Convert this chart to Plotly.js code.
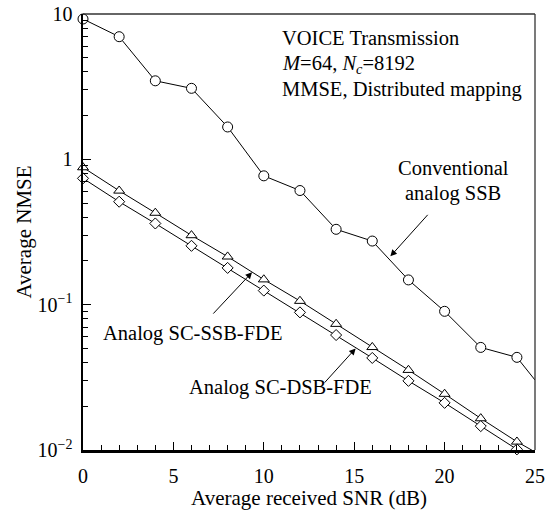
<!DOCTYPE html>
<html><head><meta charset="utf-8">
<script src="https://cdn.plot.ly/plotly-3.0.1.min.js"></script>
<style>html,body{margin:0;padding:0;background:#fff}</style>
</head><body>
<div id="chart" style="width:555px;height:514px"></div>
<script>
// SNR (dB) at which points were plotted; the last entry (25) is where the lines leave the frame
const snr = [0, 2, 4, 6, 8, 10, 12, 14, 16, 18, 20, 22, 24, 25];
const conventionalSSB = [9.24, 6.98, 3.47, 3.08, 1.67, 0.77, 0.61, 0.33, 0.274, 0.148, 0.090, 0.0508, 0.0434, 0.0303];
const scSSBFDE = [0.88, 0.608, 0.428, 0.30, 0.214, 0.149, 0.106, 0.0736, 0.051, 0.0355, 0.0243, 0.0165, 0.0114, 0.0097];
const scDSBFDE = [0.74, 0.511, 0.362, 0.254, 0.179, 0.125, 0.0885, 0.0618, 0.043, 0.0299, 0.0211, 0.0146, 0.0101, 0.0086];
const markerSNR = [0, 2, 4, 6, 8, 10, 12, 14, 16, 18, 20, 22, 24];
const yTickVals = [10, 1, 0.1, 0.01];
const yTickText = ['10', '1', '10<sup>\u22121</sup>', '10<sup>\u22122</sup>'];
const xTickVals = [0, 5, 10, 15, 20, 25];

const FONT = '"Liberation Serif", "Times New Roman", Times, serif';
function pick(arr){ return markerSNR.map(s => arr[snr.indexOf(s)]); }
const series = [
  {y: conventionalSSB, sym: 'circle', size: 10},
  {y: scSSBFDE, sym: 'triangle-up', size: 9.5},
  {y: scDSBFDE, sym: 'diamond', size: 8.5}
];
const data = [];
series.forEach(s => {
  data.push({x: snr, y: s.y, mode: 'lines', line: {color: '#000', width: 1}, hoverinfo: 'skip', showlegend: false});
  data.push({x: markerSNR, y: pick(s.y), mode: 'markers', cliponaxis: false, showlegend: false,
    marker: {symbol: s.sym, size: s.size, color: '#fff', line: {color: '#000', width: 1}}});
});

const minorY = [];
[0.01, 0.1, 1].forEach(d => { for (let k = 2; k <= 9; k++) minorY.push(k * d); });

const annFont = {family: FONT, size: 20.5, color: '#000'};
const L = Math.log10;
function label(x, y, text){ return {xref: 'x', yref: 'y', x: x, y: L(y), text: text, showarrow: false, font: annFont, xanchor: 'center', yanchor: 'middle'}; }
function arrow(x, y, ax, ay){ return {xref: 'x', yref: 'y', axref: 'x', ayref: 'y', x: x, y: L(y), ax: ax, ay: L(ay), text: '', showarrow: true, arrowhead: 2, arrowsize: 1.3, arrowwidth: 1, arrowcolor: '#000', standoff: 0, startstandoff: 0}; }
const annotations = [
  {xref: 'paper', yref: 'paper', x: 0.436, y: 0.945, xanchor: 'left', yanchor: 'middle', text: 'VOICE Transmission', showarrow: false, font: annFont},
  {xref: 'paper', yref: 'paper', x: 0.436, y: 0.885, xanchor: 'left', yanchor: 'middle', text: '<i>M</i>=64, <i>N<sub>c</sub></i>=8192', showarrow: false, font: annFont},
  {xref: 'paper', yref: 'paper', x: 0.436, y: 0.826, xanchor: 'left', yanchor: 'middle', text: 'MMSE, Distributed mapping', showarrow: false, font: annFont},
  label(20.5, 0.867, 'Conventional'),
  label(20.45, 0.583, 'analog SSB'),
  label(6.05, 0.0634, 'Analog SC-SSB-FDE'),
  label(10.94, 0.0268, 'Analog SC-DSB-FDE'),
  arrow(17.0, 0.215, 19.14, 0.425),
  arrow(9.35, 0.167, 7.13, 0.0848),
  arrow(15.08, 0.050, 13.29, 0.0284)
];

const layout = {
  width: 555, height: 514,
  margin: {l: 83, r: 20, t: 14, b: 64},
  paper_bgcolor: '#fff', plot_bgcolor: '#fff',
  font: {family: FONT, size: 20, color: '#000'},
  showlegend: false,
  xaxis: {
    range: [0, 25], tickmode: 'array', tickvals: xTickVals, ticks: 'inside', ticklen: 8, tickwidth: 1, tickcolor: '#000',
    minor: {dtick: 1, ticks: 'inside', ticklen: 5, tickwidth: 1, tickcolor: '#000'},
    showline: true, linewidth: 2.5, linecolor: '#000', mirror: false, showgrid: false, zeroline: false,
    tickfont: {family: FONT, size: 20}, ticklabelstandoff: 6,
    title: {text: 'Average received SNR (dB)', font: {family: FONT, size: 21}, standoff: 2}
  },
  yaxis: {
    type: 'log', range: [-2, 1], tickmode: 'array', tickvals: yTickVals, ticktext: yTickText,
    ticks: 'inside', ticklen: 8, tickwidth: 1, tickcolor: '#000',
    minor: {tickmode: 'array', tickvals: minorY, ticks: 'inside', ticklen: 5, tickwidth: 1, tickcolor: '#000'},
    showline: true, linewidth: 2.5, linecolor: '#000', mirror: false, showgrid: false, zeroline: false,
    tickfont: {family: FONT, size: 20}, ticklabelstandoff: 4,
    title: {text: 'Average NMSE', font: {family: FONT, size: 21}, standoff: 0}
  },
  shapes: [
    {type: 'line', xref: 'paper', yref: 'paper', x0: 0, x1: 1, y0: 1, y1: 1, line: {color: '#333', width: 1.3}},
    {type: 'line', xref: 'paper', yref: 'paper', x0: 1, x1: 1, y0: 0, y1: 1, line: {color: '#333', width: 1.3}}
  ],
  annotations: annotations
};
Plotly.newPlot('chart', data, layout, {displayModeBar: false, staticPlot: true});
</script>
</body></html>
